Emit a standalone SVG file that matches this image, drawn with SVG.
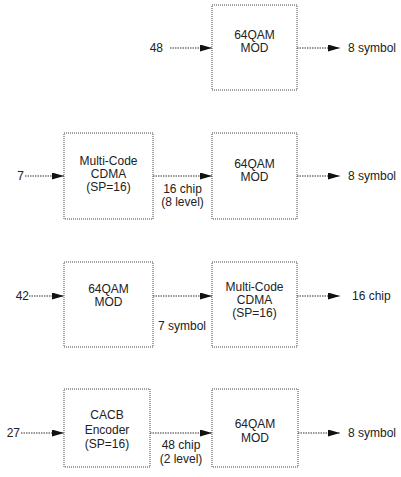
<svg xmlns="http://www.w3.org/2000/svg" width="401" height="477" viewBox="0 0 401 477">
<style>
text{font-family:"Liberation Sans",Arial,sans-serif;font-size:12px;fill:#222}
.c{text-anchor:middle}
.e{text-anchor:end}
.box{fill:#fff;stroke:#444;stroke-width:1;stroke-dasharray:1 1}
.ln{stroke:#333;stroke-width:1;stroke-dasharray:1.5 1;fill:none;marker-end:url(#ah)}
</style>
<defs>
<marker id="ah" markerUnits="userSpaceOnUse" markerWidth="12" markerHeight="8" refX="12" refY="3.5" orient="auto">
<path d="M0,0 L12,3.5 L0,7 z" fill="#111"/>
</marker>
</defs>
<rect width="401" height="477" fill="#fff"/>

<g id="connectors">
<line class="ln" x1="170" y1="48" x2="212" y2="48"/>
<line class="ln" x1="297" y1="48" x2="340" y2="48"/>
<line class="ln" x1="25" y1="176" x2="64" y2="176"/>
<line class="ln" x1="153" y1="176" x2="212" y2="176"/>
<line class="ln" x1="297" y1="176" x2="340" y2="176"/>
<line class="ln" x1="29" y1="296" x2="64" y2="296"/>
<line class="ln" x1="153" y1="296" x2="212" y2="296"/>
<line class="ln" x1="297" y1="296" x2="340" y2="296"/>
<line class="ln" x1="21" y1="433" x2="64" y2="433"/>
<line class="ln" x1="150" y1="433" x2="212" y2="433"/>
<line class="ln" x1="298" y1="433" x2="340" y2="433"/>
</g>

<g id="labels">
<text class="e" x="163" y="52">48</text>
<text x="348" y="52">8 symbol</text>
<text class="e" x="24" y="180">7</text>
<text class="c" x="182.5" y="193">16 chip</text>
<text class="c" x="182.5" y="206">(8 level)</text>
<text x="348" y="180">8 symbol</text>
<text class="e" x="29" y="300">42</text>
<text class="c" x="182" y="330">7 symbol</text>
<text x="352" y="300">16 chip</text>
<text class="e" x="20" y="437">27</text>
<text class="c" x="181" y="449">48 chip</text>
<text class="c" x="181" y="463">(2 level)</text>
<text x="348" y="437">8 symbol</text>
</g>

<g id="mod1">
<rect class="box" x="212" y="5" width="85" height="85"/>
<text class="c" x="254.5" y="39">64QAM</text>
<text class="c" x="254.5" y="52">MOD</text>
</g>

<g id="cdma2">
<rect class="box" x="64" y="133" width="89" height="86"/>
<text class="c" x="108.5" y="165">Multi-Code</text>
<text class="c" x="108.5" y="178">CDMA</text>
<text class="c" x="108.5" y="191">(SP=16)</text>
</g>
<g id="mod2">
<rect class="box" x="212" y="133" width="85" height="86"/>
<text class="c" x="254.5" y="168">64QAM</text>
<text class="c" x="254.5" y="181">MOD</text>
</g>

<g id="mod3">
<rect class="box" x="64" y="262" width="89" height="85"/>
<text class="c" x="108.5" y="293">64QAM</text>
<text class="c" x="108.5" y="306">MOD</text>
</g>
<g id="cdma3">
<rect class="box" x="212" y="262" width="85" height="85"/>
<text class="c" x="254.5" y="291">Multi-Code</text>
<text class="c" x="254.5" y="304">CDMA</text>
<text class="c" x="254.5" y="317">(SP=16)</text>
</g>

<g id="cacb4">
<rect class="box" x="64" y="389" width="86" height="78"/>
<text class="c" x="107" y="419">CACB</text>
<text class="c" x="107" y="434">Encoder</text>
<text class="c" x="107" y="448">(SP=16)</text>
</g>
<g id="mod4">
<rect class="box" x="212" y="389" width="86" height="78"/>
<text class="c" x="255" y="428">64QAM</text>
<text class="c" x="255" y="442">MOD</text>
</g>
</svg>
